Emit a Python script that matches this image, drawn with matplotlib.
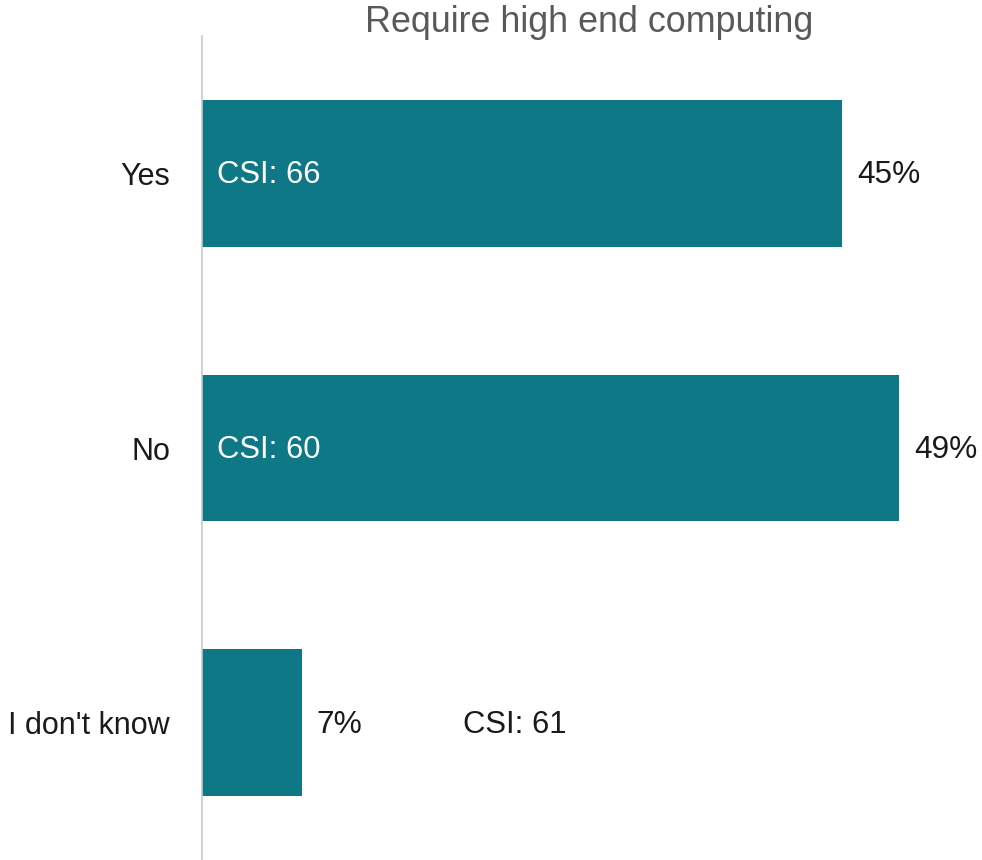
import matplotlib
matplotlib.use('Agg')
import matplotlib.pyplot as plt

categories = ["Yes", "No", "I don't know"]
shares = [45, 49, 7]
csi_scores = [66, 60, 61]

bar_color = '#0f7886'
plt.rcParams['font.family'] = ['Liberation Sans', 'DejaVu Sans']

fig = plt.figure(figsize=(9.82, 8.6), dpi=100)
# axes box in figure coords: left edge is the vertical baseline
ax = fig.add_axes([202 / 982, 0.0, 780 / 982, 824 / 860])

ypos = list(range(len(categories)))
bars = ax.barh(ypos, shares, height=0.535, color=bar_color)

ax.set_xlim(0, 780 / 14.22)
ax.set_ylim(len(categories) - 0.5, -0.5)

for s in ['top', 'right', 'bottom']:
    ax.spines[s].set_visible(False)
ax.spines['left'].set_color('#c8c8c8')
ax.spines['left'].set_linewidth(1.2)
ax.set_xticks([])
ax.set_yticks(ypos)
ax.set_yticklabels(categories, fontsize=22, color='#1a1a1a')
ax.tick_params(axis='y', length=0, pad=23)

for y, v, c in zip(ypos, shares, csi_scores):
    ax.annotate(f"{v}%", (v, y), xytext=(11, -1.5), textcoords='offset points',
                ha='left', va='center', fontsize=22.8, color='#1a1a1a')
    if v > 15:
        ax.annotate(f"CSI: {c}", (0, y), xytext=(11, -1.5), textcoords='offset points',
                    ha='left', va='center', fontsize=22.3, color='white')
    else:
        ax.annotate(f"CSI: {c}", (18.35, y), xytext=(0, -1.5), textcoords='offset points',
                    ha='left', va='center', fontsize=22.3, color='#1a1a1a')

fig.text(589 / 982, 1 - 22 / 860, "Require high end computing", ha='center',
         va='center', fontsize=25.8, color='#595959')

fig.savefig('out.png', dpi=100)
